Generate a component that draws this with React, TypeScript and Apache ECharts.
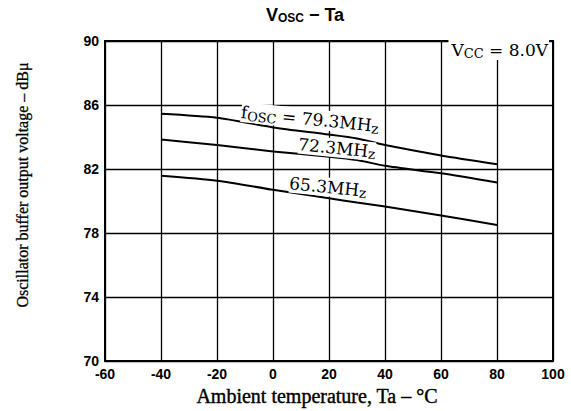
import React, { useEffect, useRef } from "react";
import * as echarts from "echarts";

const xTicks = [-60, -40, -20, 0, 20, 40, 60, 80, 100];
const yTicks = [70, 74, 78, 82, 86, 90];
const temps = [-40, -20, 0, 20, 30, 40, 60, 80];
const f793 = [85.45, 85.2, 84.6, 84.15, 83.9, 83.5, 82.85, 82.3];
const f723 = [83.85, 83.5, 83.1, 82.77, 82.56, 82.2, 81.73, 81.15];
const f653 = [81.58, 81.27, 80.7, 80.17, 79.9, 79.65, 79.1, 78.5];

const serif = "'Liberation Serif', 'DejaVu Serif', serif";
const wserif = "'DejaVu Serif', 'Liberation Serif', serif";
const sans = "'Liberation Sans', Arial, sans-serif";

export default function App() {
  const ref = useRef<HTMLDivElement>(null);
  useEffect(() => {
    if (!ref.current) return;
    const chart = echarts.init(ref.current, undefined, { renderer: "svg" });
    const mk = (vals: number[]) => ({
      type: "line",
      data: temps.map((t, i) => [t, vals[i]]),
      smooth: 0.25,
      symbol: "none",
      lineStyle: { color: "#000", width: 2 },
      z: 3,
    });
    const rich = {
      n: { fontSize: 17, fontFamily: wserif, fill: "#000" },
      s: { fontSize: 13, fontFamily: wserif, fill: "#000", verticalAlign: "bottom" as const, padding: [7, 0, 0, 0] },
      z: { fontSize: 14, fontFamily: wserif, fill: "#000", verticalAlign: "bottom" as const, padding: [5, 0, 0, 0] },
    };
    const lbl = (text: string, x: number, y: number) => ({
      type: "text",
      x,
      y,
      rotation: -0.1,
      style: { text, align: "center", verticalAlign: "middle", backgroundColor: "#fff", rich },
      z: 11,
    });
    chart.setOption({
      animation: false,
      backgroundColor: "#fff",
      grid: { left: 105, right: 18, top: 41, bottom: 50 },
      xAxis: {
        type: "value",
        min: -60,
        max: 100,
        interval: 20,
        axisLine: { show: true, onZero: false, lineStyle: { color: "#000", width: 2 } },
        axisTick: { show: false },
        splitLine: { show: true, lineStyle: { color: "#000", width: 1.3 } },
        axisLabel: {
          color: "#000",
          fontFamily: sans,
          fontWeight: "bold",
          fontSize: 14,
          margin: 6,
          formatter: (v: number) => (v < 0 ? "-" + Math.abs(v) : String(v)),
        },
      },
      yAxis: {
        type: "value",
        min: 70,
        max: 90,
        interval: 4,
        axisLine: { show: true, onZero: false, lineStyle: { color: "#000", width: 2 } },
        axisTick: { show: false },
        splitLine: { show: true, lineStyle: { color: "#000", width: 1.3 } },
        axisLabel: {
          color: "#000",
          fontFamily: sans,
          fontWeight: "bold",
          fontSize: 14,
          margin: 6,
        },
      },
      series: [mk(f793), mk(f723), mk(f653)],
      graphic: [
        {
          type: "rect",
          shape: { x: 105, y: 41, width: 448, height: 320 },
          style: { fill: "none", stroke: "#000", lineWidth: 2 },
          z: 10,
        },
        {
          type: "text",
          x: 305,
          y: 15,
          style: {
            text: "{b|V}{s|OSC}{b| \u2212 Ta}",
            align: "center",
            verticalAlign: "middle",
            rich: {
              b: { fontSize: 18, fontWeight: "bold", fontFamily: sans, fill: "#000" },
              s: { fontSize: 12, fontWeight: "bold", fontFamily: sans, fill: "#000", verticalAlign: "bottom", padding: [6, 0, 0, 0] },
            },
          },
        },
        {
          type: "text",
          x: 549,
          y: 50,
          style: {
            text: "{n|V}{s|CC}{n| = 8.0V}",
            align: "right",
            verticalAlign: "middle",
            backgroundColor: "#fff",
            padding: [0, 1, 0, 3],
            rich,
          },
          z: 11,
        },
        lbl("{n|f}{s|OSC}{n| = 79.3MH}{z|z}", 310, 119),
        lbl("{n|72.3MH}{z|z}", 337, 148),
        lbl("{n|65.3MH}{z|z}", 328, 187),
        {
          type: "text",
          x: 22,
          y: 185,
          rotation: Math.PI / 2,
          style: {
            text: "Oscillator buffer output voltage \u2013 dB\u03bc",
            align: "center",
            verticalAlign: "middle",
            fontSize: 16,
            fontFamily: serif,
            fill: "#000",
            stroke: "#000",
            lineWidth: 0.3,
          },
        },
        {
          type: "text",
          x: 317,
          y: 396,
          style: {
            text: "Ambient temperature, Ta \u2013 \u00b0C",
            align: "center",
            verticalAlign: "middle",
            fontSize: 20,
            fontFamily: serif,
            fill: "#000",
            stroke: "#000",
            lineWidth: 0.4,
          },
        },
      ],
    });
    return () => chart.dispose();
  }, []);
  return (
    <div
      ref={ref}
      style={{ position: "fixed", left: 0, top: 0, width: 571, height: 411 }}
    />
  );
}
